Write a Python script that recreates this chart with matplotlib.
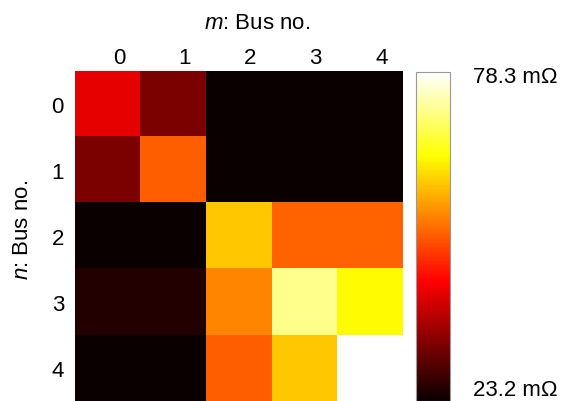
import matplotlib
matplotlib.use("Agg")
import matplotlib.pyplot as plt
import numpy as np

plt.rcParams["font.family"] = ["Liberation Sans", "DejaVu Sans"]
plt.rcParams["mathtext.fontset"] = "custom"
plt.rcParams["mathtext.rm"] = "Liberation Sans"
plt.rcParams["mathtext.it"] = "Liberation Sans:italic"

buses = ["0", "1", "2", "3", "4"]
# impedance magnitudes in mOhm
row0 = [41.3, 32.6, 23.4, 23.4, 23.4]
row1 = [32.6, 51.1, 23.4, 23.4, 23.4]
row2 = [23.4, 23.4, 59.6, 51.6, 51.6]
row3 = [25.2, 25.2, 54.4, 72.0, 64.0]
row4 = [23.2, 23.2, 51.1, 59.6, 78.3]
vmin, vmax = 23.2, 78.3

Z = np.array([row0, row1, row2, row3, row4])

fig = plt.figure(figsize=(5.69, 4.02), dpi=100)
ax = fig.add_axes([0.132, 0.0, 0.576, 0.821])
cax = fig.add_axes([0.731, 0.0, 0.060, 0.818])

im = ax.imshow(Z, cmap="hot", vmin=vmin, vmax=vmax, aspect="auto",
               interpolation="nearest")
# top labels sit a little right of the cell centres in the original
ax.set_xticks(np.arange(len(buses)) + 0.17)
ax.set_xticklabels(buses)
ax.set_yticks(range(len(buses)))
ax.set_yticklabels(buses)
ax.xaxis.tick_top()
ax.xaxis.set_label_position("top")
ax.tick_params(length=0, labelsize=16)
ax.tick_params(axis="x", pad=2)
ax.tick_params(axis="y", pad=8)
ax.set_xlabel("$m$: Bus no.", fontsize=16)
ax.set_ylabel("$n$: Bus no.", fontsize=16)
ax.xaxis.set_label_coords(0.555, 1.13)
ax.yaxis.set_label_coords(-0.128, 0.52)
for s in ax.spines.values():
    s.set_visible(False)

cb = fig.colorbar(im, cax=cax)
cb.set_ticks([])
cb.outline.set_edgecolor("#999999")
cb.outline.set_linewidth(0.8)
cax.text(1.68, 1.018, f"{vmax} m\u03a9", transform=cax.transAxes, fontsize=16,
         va="top", ha="left")
cax.text(1.68, 0.003, f"{vmin} m\u03a9", transform=cax.transAxes, fontsize=16,
         va="bottom", ha="left")

fig.savefig("out.png", dpi=100)
